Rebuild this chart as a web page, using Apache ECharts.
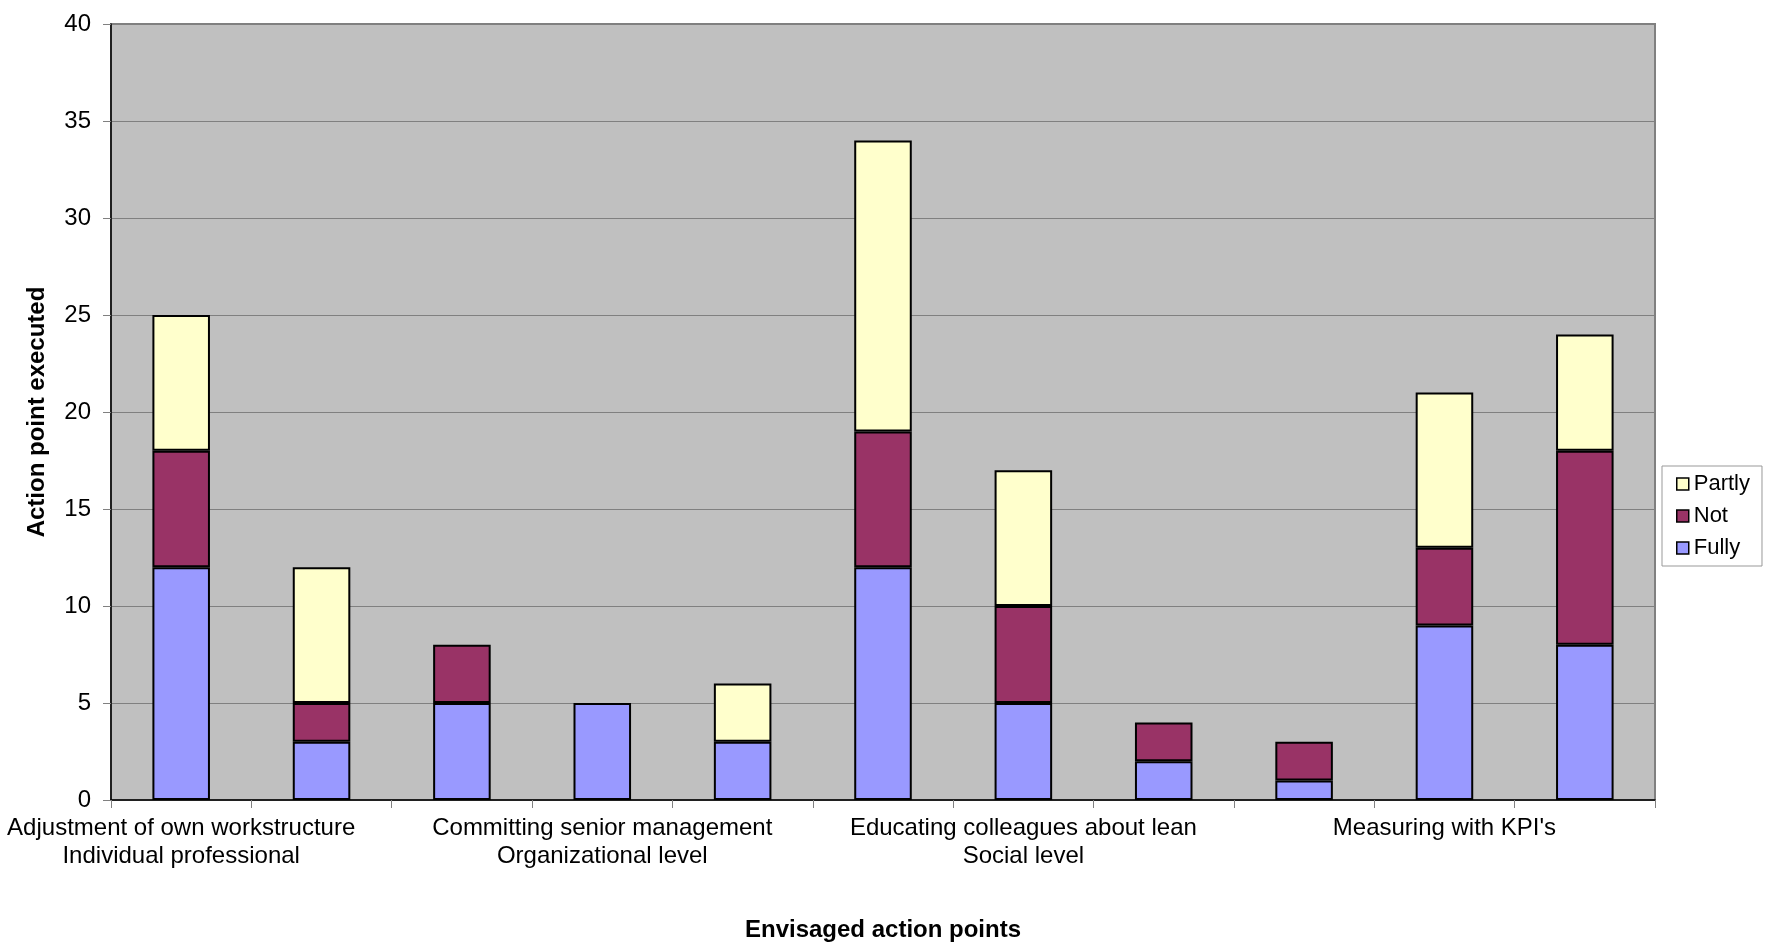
<!DOCTYPE html>
<html>
<head>
<meta charset="utf-8">
<script src="https://cdn.jsdelivr.net/npm/echarts@6/dist/echarts.min.js"></script>
<style>
html,body{margin:0;padding:0;background:#fff;}
#chart{width:1775px;height:948px;}
</style>
</head>
<body>
<div id="chart"></div>
<script>
// Category tick labels (only every third category carries a label)
var categories = [
  'Adjustment of own workstructure\nIndividual professional', '', '',
  'Committing senior management\nOrganizational level', '', '',
  'Educating colleagues about lean\nSocial level', '', '',
  "Measuring with KPI's", ''
];
var fully  = [12, 3, 5, 5, 3, 12, 5, 2, 1, 9, 8];
var notEx  = [6, 2, 3, null, null, 7, 5, 2, 2, 4, 10];
var partly = [7, 7, null, null, 3, 15, 7, null, null, 8, 6];
var yTicks = [0, 5, 10, 15, 20, 25, 30, 35, 40];

var FONT = '"Liberation Sans", Arial, sans-serif';
var chart = echarts.init(document.getElementById('chart'));

function barSeries(name, data, color) {
  return {
    name: name,
    type: 'bar',
    stack: 'total',
    data: data,
    barCategoryGap: '59%',
    itemStyle: { color: color, borderColor: '#000', borderWidth: 2 },
    emphasis: { disabled: true }
  };
}

chart.setOption({
  animation: false,
  textStyle: { fontFamily: FONT },
  grid: {
    left: 111, right: 120, top: 24, bottom: 148,
    show: true, backgroundColor: '#C0C0C0', borderColor: '#808080', borderWidth: 2
  },
  legend: {
    orient: 'vertical',
    left: 1662, top: 466,
    width: 109,
    data: ['Partly', 'Not', 'Fully'],
    backgroundColor: '#fff',
    borderColor: '#999',
    borderWidth: 1,
    padding: [6, 12, 6, 14],
    itemWidth: 12, itemHeight: 12,
    itemGap: 8,
    icon: 'rect',
    textStyle: { fontSize: 22, color: '#000', fontFamily: FONT, padding: [0, 0, 0, 0], lineHeight: 24 },
    itemStyle: { borderColor: '#000', borderWidth: 1.5 }
  },
  xAxis: {
    type: 'category',
    data: categories,
    name: 'Envisaged action points',
    nameLocation: 'middle',
    nameGap: 118,
    nameTextStyle: { fontSize: 24, fontWeight: 'bold', color: '#000', fontFamily: FONT },
    axisLine: { lineStyle: { color: '#000', width: 1.5 } },
    axisTick: { show: true, interval: 0, length: 8, lineStyle: { color: '#808080' } },
    axisLabel: {
      interval: 0, fontSize: 24, color: '#000', fontFamily: FONT, margin: 14, lineHeight: 28,
      align: 'center'
    },
    splitLine: { show: false }
  },
  yAxis: {
    type: 'value',
    min: yTicks[0], max: yTicks[yTicks.length - 1], interval: 5,
    name: 'Action point executed',
    nameLocation: 'middle',
    nameGap: 62,
    nameTextStyle: { fontSize: 24, fontWeight: 'bold', color: '#000', fontFamily: FONT },
    axisLine: { show: true, lineStyle: { color: '#000', width: 1.5 } },
    axisTick: { show: true, length: 8, lineStyle: { color: '#808080' } },
    axisLabel: { fontSize: 24, color: '#000', fontFamily: FONT, margin: 20 },
    splitLine: { show: true, lineStyle: { color: '#808080', width: 1 } }
  },
  series: [
    barSeries('Fully', fully, '#9999FF'),
    barSeries('Not', notEx, '#993366'),
    barSeries('Partly', partly, '#FFFFCC')
  ]
});
</script>
</body>
</html>
